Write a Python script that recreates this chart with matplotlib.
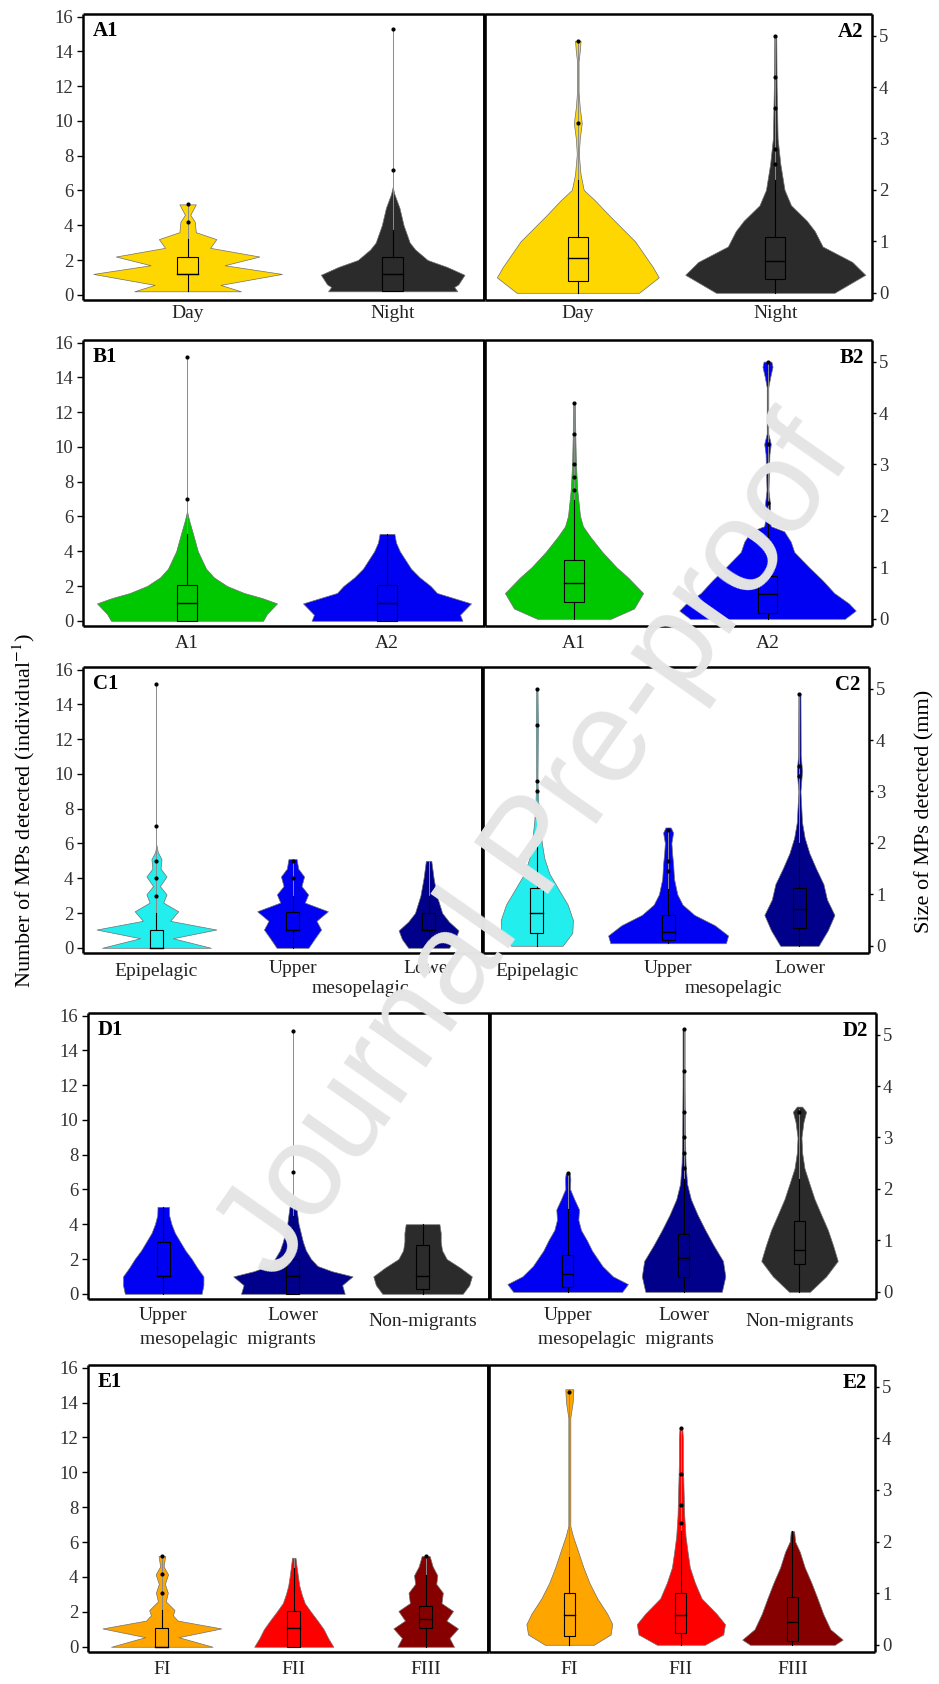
import matplotlib
matplotlib.use('Agg')
import matplotlib.pyplot as plt
from matplotlib.patches import Rectangle
import numpy as np

plt.rcParams['font.family'] = ['Liberation Serif', 'DejaVu Serif']
plt.rcParams['mathtext.fontset'] = 'stix'

# ---------------- data ----------------
# violin outlines: y levels and half widths (x data units)
# box stats: [whisker low, q1, median, q3, whisker high]

# A: day / night
a_labels = ['Day', 'Night']
a1_day_y = [0.2, 0.57, 1.2, 1.7, 2.2, 2.7, 3.2, 3.6, 4.2, 4.6, 5.2]
a1_day_w = [0.26, 0.16, 0.46, 0.18, 0.35, 0.11, 0.14, 0.04, 0.035, 0.013, 0.04]
a1_night_y = [0.2, 0.45, 0.6, 1.15, 1.6, 2.0, 2.6, 3.0, 4.0, 5.0, 5.8, 6.2]
a1_night_w = [0.315, 0.30, 0.32, 0.35, 0.265, 0.17, 0.11, 0.083, 0.053, 0.033, 0.008, 0.0]
a1_box = [[0.2, 1.2, 1.2, 2.2, 3.2], [0.2, 0.2, 1.2, 2.2, 3.7]]
a1_max = [5.2, 15.3]
a1_out = [[4.2, 5.2], [7.2, 15.3]]

a2_day_y = [0.0, 0.3, 0.5, 1.0, 1.5, 1.8, 2.0, 2.3, 2.7, 3.0, 3.3, 3.6, 3.9, 4.5, 4.7, 4.9]
a2_day_w = [0.31, 0.41, 0.38, 0.29, 0.16, 0.086, 0.03, 0.014, 0.005, 0.01, 0.02, 0.01, 0.004, 0.004, 0.01, 0.014]
a2_night_y = [0.0, 0.35, 0.6, 0.9, 1.2, 1.4, 1.7, 2.0, 2.5, 3.0, 4.0, 5.0]
a2_night_w = [0.30, 0.456, 0.39, 0.24, 0.20, 0.16, 0.08, 0.047, 0.026, 0.012, 0.007, 0.005]
a2_box = [[0.0, 0.22, 0.68, 1.08, 2.2], [0.0, 0.26, 0.62, 1.08, 2.2]]
a2_max = [4.9, 5.0]
a2_out = [[3.3, 4.9], [2.5, 2.8, 3.6, 4.2, 5.0]]

# B: A1 / A2
b_labels = ['A1', 'A2']
b1_a1_y = [0.0, 0.4, 1.0, 1.3, 1.6, 2.0, 2.5, 3.0, 4.0, 5.0, 5.8, 6.3]
b1_a1_w = [0.38, 0.40, 0.45, 0.377, 0.285, 0.20, 0.134, 0.095, 0.054, 0.03, 0.01, 0.0]
b1_a2_y = [0.0, 0.35, 1.0, 1.3, 1.6, 2.0, 2.5, 3.0, 3.5, 4.0, 4.5, 5.0]
b1_a2_w = [0.377, 0.365, 0.42, 0.335, 0.25, 0.218, 0.163, 0.12, 0.092, 0.064, 0.045, 0.037]
b1_box = [[0.0, 0.0, 1.05, 2.05, 5.0], [0.0, 0.0, 1.05, 2.05, 5.0]]
b1_max = [15.2, 5.0]
b1_out = [[7.0, 15.2], []]

b2_a1_y = [0.0, 0.2, 0.5, 0.8, 1.0, 1.3, 1.6, 1.8, 2.0, 2.5, 3.0, 3.5, 4.2]
b2_a1_w = [0.19, 0.31, 0.357, 0.28, 0.22, 0.146, 0.083, 0.046, 0.031, 0.017, 0.01, 0.007, 0.004]
b2_a2_y = [0.0, 0.16, 0.3, 0.5, 0.75, 1.0, 1.3, 1.5, 1.7, 1.8, 2.0, 2.2, 2.5, 3.2, 3.4, 3.6, 4.5, 4.7, 4.9, 5.0]
b2_a2_w = [0.40, 0.456, 0.42, 0.345, 0.284, 0.215, 0.138, 0.12, 0.086, 0.017, 0.009, 0.014, 0.005, 0.01, 0.017, 0.004, 0.004, 0.014, 0.026, 0.02]
b2_box = [[0.0, 0.32, 0.69, 1.15, 2.3], [0.0, 0.12, 0.49, 0.83, 1.9]]
b2_max = [4.2, 5.0]
b2_out = [[2.5, 2.75, 3.0, 3.6, 4.2], [2.25, 3.4, 5.0]]

# C: depth layers
c_labels = ['Epipelagic', 'Upper', 'Lower']
c1_epi_y = [0.0, 0.55, 1.05, 1.55, 2.1, 2.6, 3.07, 3.55, 4.1, 4.55, 5.1, 5.5, 5.9]
c1_epi_w = [0.40, 0.12, 0.44, 0.10, 0.16, 0.05, 0.074, 0.025, 0.074, 0.03, 0.037, 0.01, 0.0]
c1_upper_y = [0.0, 0.55, 1.05, 1.55, 2.1, 2.6, 3.07, 3.55, 4.1, 4.55, 5.1]
c1_upper_w = [0.117, 0.165, 0.21, 0.176, 0.26, 0.09, 0.115, 0.066, 0.085, 0.042, 0.03]
c1_lower_y = [0.0, 0.5, 1.0, 1.5, 2.0, 3.0, 4.0, 5.0]
c1_lower_w = [0.15, 0.196, 0.22, 0.15, 0.10, 0.06, 0.037, 0.02]
c1_box = [[0.0, 0.0, 0.0, 1.05, 2.0], [0.0, 1.05, 1.05, 2.05, 3.0], [0.0, 1.0, 1.0, 2.0, 3.0]]
c1_max = [15.2, 5.0, 5.0]
c1_out = [[3.0, 4.0, 5.0, 7.0, 15.2], [4.0, 5.0], []]

c2_epi_y = [0.0, 0.25, 0.5, 0.8, 1.1, 1.4, 1.7, 2.0, 2.4, 2.8, 3.2, 4.3, 5.0]
c2_epi_w = [0.196, 0.27, 0.275, 0.235, 0.165, 0.096, 0.057, 0.038, 0.02, 0.01, 0.005, 0.008, 0.005]
c2_upper_y = [0.05, 0.2, 0.4, 0.6, 0.8, 1.0, 1.3, 1.6, 1.8, 2.0, 2.2, 2.3]
c2_upper_w = [0.44, 0.457, 0.355, 0.20, 0.11, 0.07, 0.045, 0.038, 0.03, 0.025, 0.038, 0.02]
c2_lower_y = [0.0, 0.3, 0.6, 0.9, 1.2, 1.5, 1.8, 2.1, 2.4, 3.0, 3.4, 3.7, 4.9]
c2_lower_w = [0.146, 0.216, 0.267, 0.21, 0.183, 0.127, 0.076, 0.04, 0.02, 0.008, 0.02, 0.01, 0.008]
c2_box = [[0.0, 0.25, 0.63, 1.12, 2.2], [0.05, 0.12, 0.27, 0.6, 1.1], [0.0, 0.35, 0.72, 1.12, 2.0]]
c2_max = [5.0, 2.25, 4.9]
c2_out = [[2.5, 2.75, 3.0, 3.2, 4.3, 5.0], [1.45, 1.65, 2.25], [3.3, 3.5, 4.9]]

# D: migration groups
d_labels = ['Upper', 'Lower', 'Non-migrants']
d1_upper_y = [0.0, 0.5, 1.0, 1.5, 2.0, 2.5, 3.0, 3.5, 4.0, 4.5, 5.0]
d1_upper_w = [0.296, 0.31, 0.31, 0.262, 0.22, 0.17, 0.13, 0.09, 0.064, 0.046, 0.044]
d1_lower_y = [0.0, 0.5, 1.0, 1.3, 1.6, 2.0, 2.5, 3.0, 4.0, 5.0, 5.5]
d1_lower_w = [0.40, 0.38, 0.46, 0.30, 0.19, 0.14, 0.10, 0.077, 0.044, 0.026, 0.008]
d1_non_y = [0.0, 0.5, 1.0, 1.5, 2.0, 2.5, 3.0, 3.5, 4.0]
d1_non_w = [0.31, 0.36, 0.38, 0.29, 0.186, 0.15, 0.14, 0.14, 0.13]
d1_box = [[0.0, 1.05, 1.05, 3.0, 5.0], [0.0, 0.0, 1.0, 2.0, 4.5], [0.0, 0.3, 1.05, 2.8, 4.0]]
d1_max = [5.0, 15.1, 4.0]
d1_out = [[], [7.0, 15.1], []]

d2_upper_y = [0.0, 0.15, 0.3, 0.5, 0.8, 1.0, 1.2, 1.4, 1.6, 1.8, 2.0, 2.2, 2.3]
d2_upper_w = [0.47, 0.52, 0.39, 0.30, 0.21, 0.166, 0.115, 0.092, 0.098, 0.057, 0.02, 0.023, 0.017]
d2_lower_y = [0.0, 0.3, 0.6, 0.9, 1.2, 1.5, 1.8, 2.1, 2.5, 3.0, 4.0, 5.1]
d2_lower_w = [0.33, 0.36, 0.34, 0.26, 0.187, 0.12, 0.063, 0.03, 0.017, 0.012, 0.009, 0.009]
d2_non_y = [0.0, 0.3, 0.6, 0.9, 1.2, 1.5, 1.8, 2.1, 2.4, 2.7, 3.0, 3.3, 3.5, 3.6]
d2_non_w = [0.09, 0.23, 0.33, 0.29, 0.245, 0.187, 0.13, 0.086, 0.043, 0.023, 0.017, 0.034, 0.057, 0.023]
d2_box = [[0.0, 0.1, 0.34, 0.72, 1.6], [0.0, 0.28, 0.65, 1.12, 2.2], [0.0, 0.55, 0.82, 1.38, 2.2]]
d2_max = [2.3, 5.1, 3.55]
d2_out = [[2.3], [2.4, 2.7, 3.0, 3.5, 4.3, 5.1], [3.5]]

# E: feeding groups
e_labels = ['FI', 'FII', 'FIII']
e1_fi_y = [0.0, 0.55, 1.05, 1.5, 1.8, 2.1, 2.6, 3.1, 3.6, 4.15, 4.6, 5.2]
e1_fi_w = [0.385, 0.126, 0.45, 0.12, 0.083, 0.096, 0.03, 0.045, 0.023, 0.047, 0.013, 0.025]
e1_fii_y = [0.0, 0.5, 1.0, 1.5, 2.0, 2.5, 3.0, 3.5, 4.0, 4.5, 5.1]
e1_fii_w = [0.30, 0.26, 0.227, 0.18, 0.13, 0.083, 0.06, 0.042, 0.032, 0.023, 0.013]
e1_fiii_y = [0.0, 0.5, 1.05, 1.5, 2.05, 2.5, 3.1, 3.6, 4.1, 4.6, 5.2]
e1_fiii_w = [0.215, 0.18, 0.245, 0.157, 0.207, 0.12, 0.13, 0.08, 0.088, 0.053, 0.03]
e1_box = [[0.0, 0.0, 0.0, 1.05, 2.1], [0.0, 0.0, 1.05, 2.05, 4.5], [0.0, 1.05, 1.6, 2.35, 4.1]]
e1_max = [5.2, 5.1, 5.2]
e1_out = [[3.1, 4.15, 5.2], [], [5.2]]

e2_fi_y = [0.0, 0.2, 0.4, 0.6, 0.9, 1.2, 1.5, 1.8, 2.1, 2.3, 4.4, 4.7, 4.95]
e2_fi_w = [0.22, 0.37, 0.385, 0.34, 0.25, 0.18, 0.126, 0.08, 0.033, 0.009, 0.009, 0.03, 0.036]
e2_fii_y = [0.0, 0.2, 0.4, 0.6, 0.9, 1.2, 1.5, 1.8, 2.1, 2.5, 3.0, 3.5, 4.0, 4.2]
e2_fii_w = [0.215, 0.38, 0.395, 0.32, 0.185, 0.126, 0.08, 0.06, 0.042, 0.03, 0.024, 0.018, 0.018, 0.012]
e2_fiii_y = [0.0, 0.1, 0.3, 0.6, 0.9, 1.2, 1.5, 1.8, 2.0, 2.2]
e2_fiii_w = [0.38, 0.45, 0.34, 0.275, 0.224, 0.17, 0.11, 0.066, 0.024, 0.015]
e2_box = [[0.0, 0.17, 0.57, 1.0, 1.7], [0.0, 0.22, 0.57, 1.0, 2.2], [0.0, 0.08, 0.45, 0.92, 2.2]]
e2_max = [4.95, 4.2, 2.2]
e2_out = [[4.9], [2.35, 2.7, 3.3, 4.2], []]

# colours
GOLD, NIGHT, GREEN, BLUE = '#FFD700', '#2B2B2B', '#00C800', '#0000F2'
CYAN, NAVY, ORANGE, RED, DRED = '#22EEEE', '#00008A', '#FFA500', '#FF0000', '#870000'

W, H = 939, 1684
fig = plt.figure(figsize=(W / 100, H / 100), dpi=100)


def px_axes(l, r, t, b):
    return fig.add_axes([l / W, 1 - b / H, (r - l) / W, (b - t) / H])


def draw(ax, ys, ws, colors, boxes, maxes, outs):
    for i, (y, w, c) in enumerate(zip(ys, ws, colors)):
        y = np.asarray(y)
        w = np.asarray(w)
        ax.fill_betweenx(y, i - w, i + w, facecolor=c, edgecolor='#707070', lw=0.5, zorder=2)
        lo, q1, med, q3, hi = boxes[i]
        bw = 0.05
        ax.plot([i, i], [hi, maxes[i]], color='#8a8a8a', lw=0.7, zorder=3)
        ax.plot([i, i], [lo, q1], color='black', lw=0.8, zorder=3)
        ax.plot([i, i], [q3, hi], color='black', lw=0.8, zorder=3)
        ax.add_patch(Rectangle((i - bw, q1), 2 * bw, q3 - q1, fill=False,
                               ec='black', lw=0.8, zorder=4))
        ax.plot([i - bw, i + bw], [med, med], color='black', lw=1.0, zorder=4)
        if outs[i]:
            ax.plot([i] * len(outs[i]), outs[i], 'o', ms=2.0, color='black', zorder=5)


def style(ax, side, xlim):
    ax.set_xlim(xlim)
    if side == 'left':
        ax.set_ylim(-0.3, 16.15)
        ax.set_yticks(np.arange(0, 17, 2))
        ax.tick_params(axis='y', direction='out', length=4, width=1, pad=3,
                       labelsize=13.5, labelcolor='#333333')
    else:
        ax.set_ylim(-0.14, 5.42)
        ax.set_yticks(np.arange(0, 6, 1))
        ax.yaxis.tick_right()
        ax.tick_params(axis='y', direction='out', length=3, width=1, pad=2,
                       labelsize=13.5, labelcolor='#333333')
    ax.set_xticks([])
    for s in ax.spines.values():
        s.set_linewidth(1.8)
        s.set_capstyle('butt')
    if side == 'left':
        ax.spines['right'].set_linewidth(2.6)
    else:
        ax.spines['left'].set_linewidth(2.6)


def xlab(ax, x, text, dy):
    ax.annotate(text, xy=(x, 0), xycoords=ax.get_xaxis_transform(),
                xytext=(0, -dy * 0.72), textcoords='offset points',
                ha='center', va='center', fontsize=14, color='#222222')


def tag(ax, text, side):
    if side == 'left':
        ax.annotate(text, xy=(0, 1), xycoords='axes fraction', xytext=(7, -5),
                    textcoords='offset points', ha='left', va='top',
                    fontsize=15, fontweight='bold')
    else:
        ax.annotate(text, xy=(1, 1), xycoords='axes fraction', xytext=(-6, -6),
                    textcoords='offset points', ha='right', va='top',
                    fontsize=15, fontweight='bold')


# row A
axl = px_axes(83, 485, 14, 300)
axr = px_axes(485, 872, 14, 300)
draw(axl, [a1_day_y, a1_night_y], [a1_day_w, a1_night_w], [GOLD, NIGHT], a1_box, a1_max, a1_out)
draw(axr, [a2_day_y, a2_night_y], [a2_day_w, a2_night_w], [GOLD, NIGHT], a2_box, a2_max, a2_out)
style(axl, 'left', (-0.51, 1.45))
style(axr, 'right', (-0.47, 1.49))
for i, t in enumerate(a_labels):
    xlab(axl, i, t, 14)
    xlab(axr, i, t, 14)
tag(axl, 'A1', 'left')
tag(axr, 'A2', 'right')

# row B
axl = px_axes(83, 485, 340, 626)
axr = px_axes(485, 872, 340, 626)
draw(axl, [b1_a1_y, b1_a2_y], [b1_a1_w, b1_a2_w], [GREEN, BLUE], b1_box, b1_max, b1_out)
draw(axr, [b2_a1_y, b2_a2_y], [b2_a1_w, b2_a2_w], [GREEN, BLUE], b2_box, b2_max, b2_out)
style(axl, 'left', (-0.52, 1.49))
style(axr, 'right', (-0.46, 1.54))
for i, t in enumerate(b_labels):
    xlab(axl, i, t, 17)
    xlab(axr, i, t, 17)
tag(axl, 'B1', 'left')
tag(axr, 'B2', 'right')

# row C
axl = px_axes(83, 483, 667, 953)
axr = px_axes(483, 869, 667, 953)
draw(axl, [c1_epi_y, c1_upper_y, c1_lower_y], [c1_epi_w, c1_upper_w, c1_lower_w],
     [CYAN, BLUE, NAVY], c1_box, c1_max, c1_out)
draw(axr, [c2_epi_y, c2_upper_y, c2_lower_y], [c2_epi_w, c2_upper_w, c2_lower_w],
     [CYAN, BLUE, NAVY], c2_box, c2_max, c2_out)
style(axl, 'left', (-0.54, 2.40))
style(axr, 'right', (-0.41, 2.53))
for ax in (axl, axr):
    xlab(ax, 0, c_labels[0], 18)
    xlab(ax, 1, c_labels[1], 15)
    xlab(ax, 2, c_labels[2], 15)
    xlab(ax, 1.5, 'mesopelagic', 35)
tag(axl, 'C1', 'left')
tag(axr, 'C2', 'right')

# row D
axl = px_axes(88, 490, 1013, 1299)
axr = px_axes(490, 876, 1013, 1299)
draw(axl, [d1_upper_y, d1_lower_y, d1_non_y], [d1_upper_w, d1_lower_w, d1_non_w],
     [BLUE, NAVY, NIGHT], d1_box, d1_max, d1_out)
draw(axr, [d2_upper_y, d2_lower_y, d2_non_y], [d2_upper_w, d2_lower_w, d2_non_w],
     [BLUE, NAVY, NIGHT], d2_box, d2_max, d2_out)
style(axl, 'left', (-0.58, 2.52))
style(axr, 'right', (-0.67, 2.66))
for ax in (axl, axr):
    xlab(ax, 0, d_labels[0], 16)
    xlab(ax, 1, d_labels[1], 16)
    xlab(ax, 2, d_labels[2], 23)
    xlab(ax, 0.5, 'mesopelagic  migrants', 40)
tag(axl, 'D1', 'left')
tag(axr, 'D2', 'right')

# row E
axl = px_axes(88, 489, 1365, 1652)
axr = px_axes(489, 875, 1365, 1652)
draw(axl, [e1_fi_y, e1_fii_y, e1_fiii_y], [e1_fi_w, e1_fii_w, e1_fiii_w],
     [ORANGE, RED, DRED], e1_box, e1_max, e1_out)
draw(axr, [e2_fi_y, e2_fii_y, e2_fiii_y], [e2_fi_w, e2_fii_w, e2_fiii_w],
     [ORANGE, RED, DRED], e2_box, e2_max, e2_out)
style(axl, 'left', (-0.56, 2.48))
style(axr, 'right', (-0.72, 2.74))
for i, t in enumerate(e_labels):
    xlab(axl, i, t, 17)
    xlab(axr, i, t, 17)
tag(axl, 'E1', 'left')
tag(axr, 'E2', 'right')

# shared axis titles
fig.text(24 / W, 1 - 811 / H, 'Number of MPs detected (individual$^{-1}$)',
         rotation=90, ha='center', va='center', fontsize=16)
fig.text(925 / W, 1 - 811 / H, 'Size of MPs detected (mm)',
         rotation=90, ha='center', va='center', fontsize=16)

# watermark
fig.text(537 / W, 1 - 850 / H, 'Journal Pre-proof', rotation=55,
         rotation_mode='anchor', ha='center', va='center', fontsize=94,
         family='Liberation Sans', color='#e5e5e5', zorder=20)

fig.savefig('out.png', dpi=100)
